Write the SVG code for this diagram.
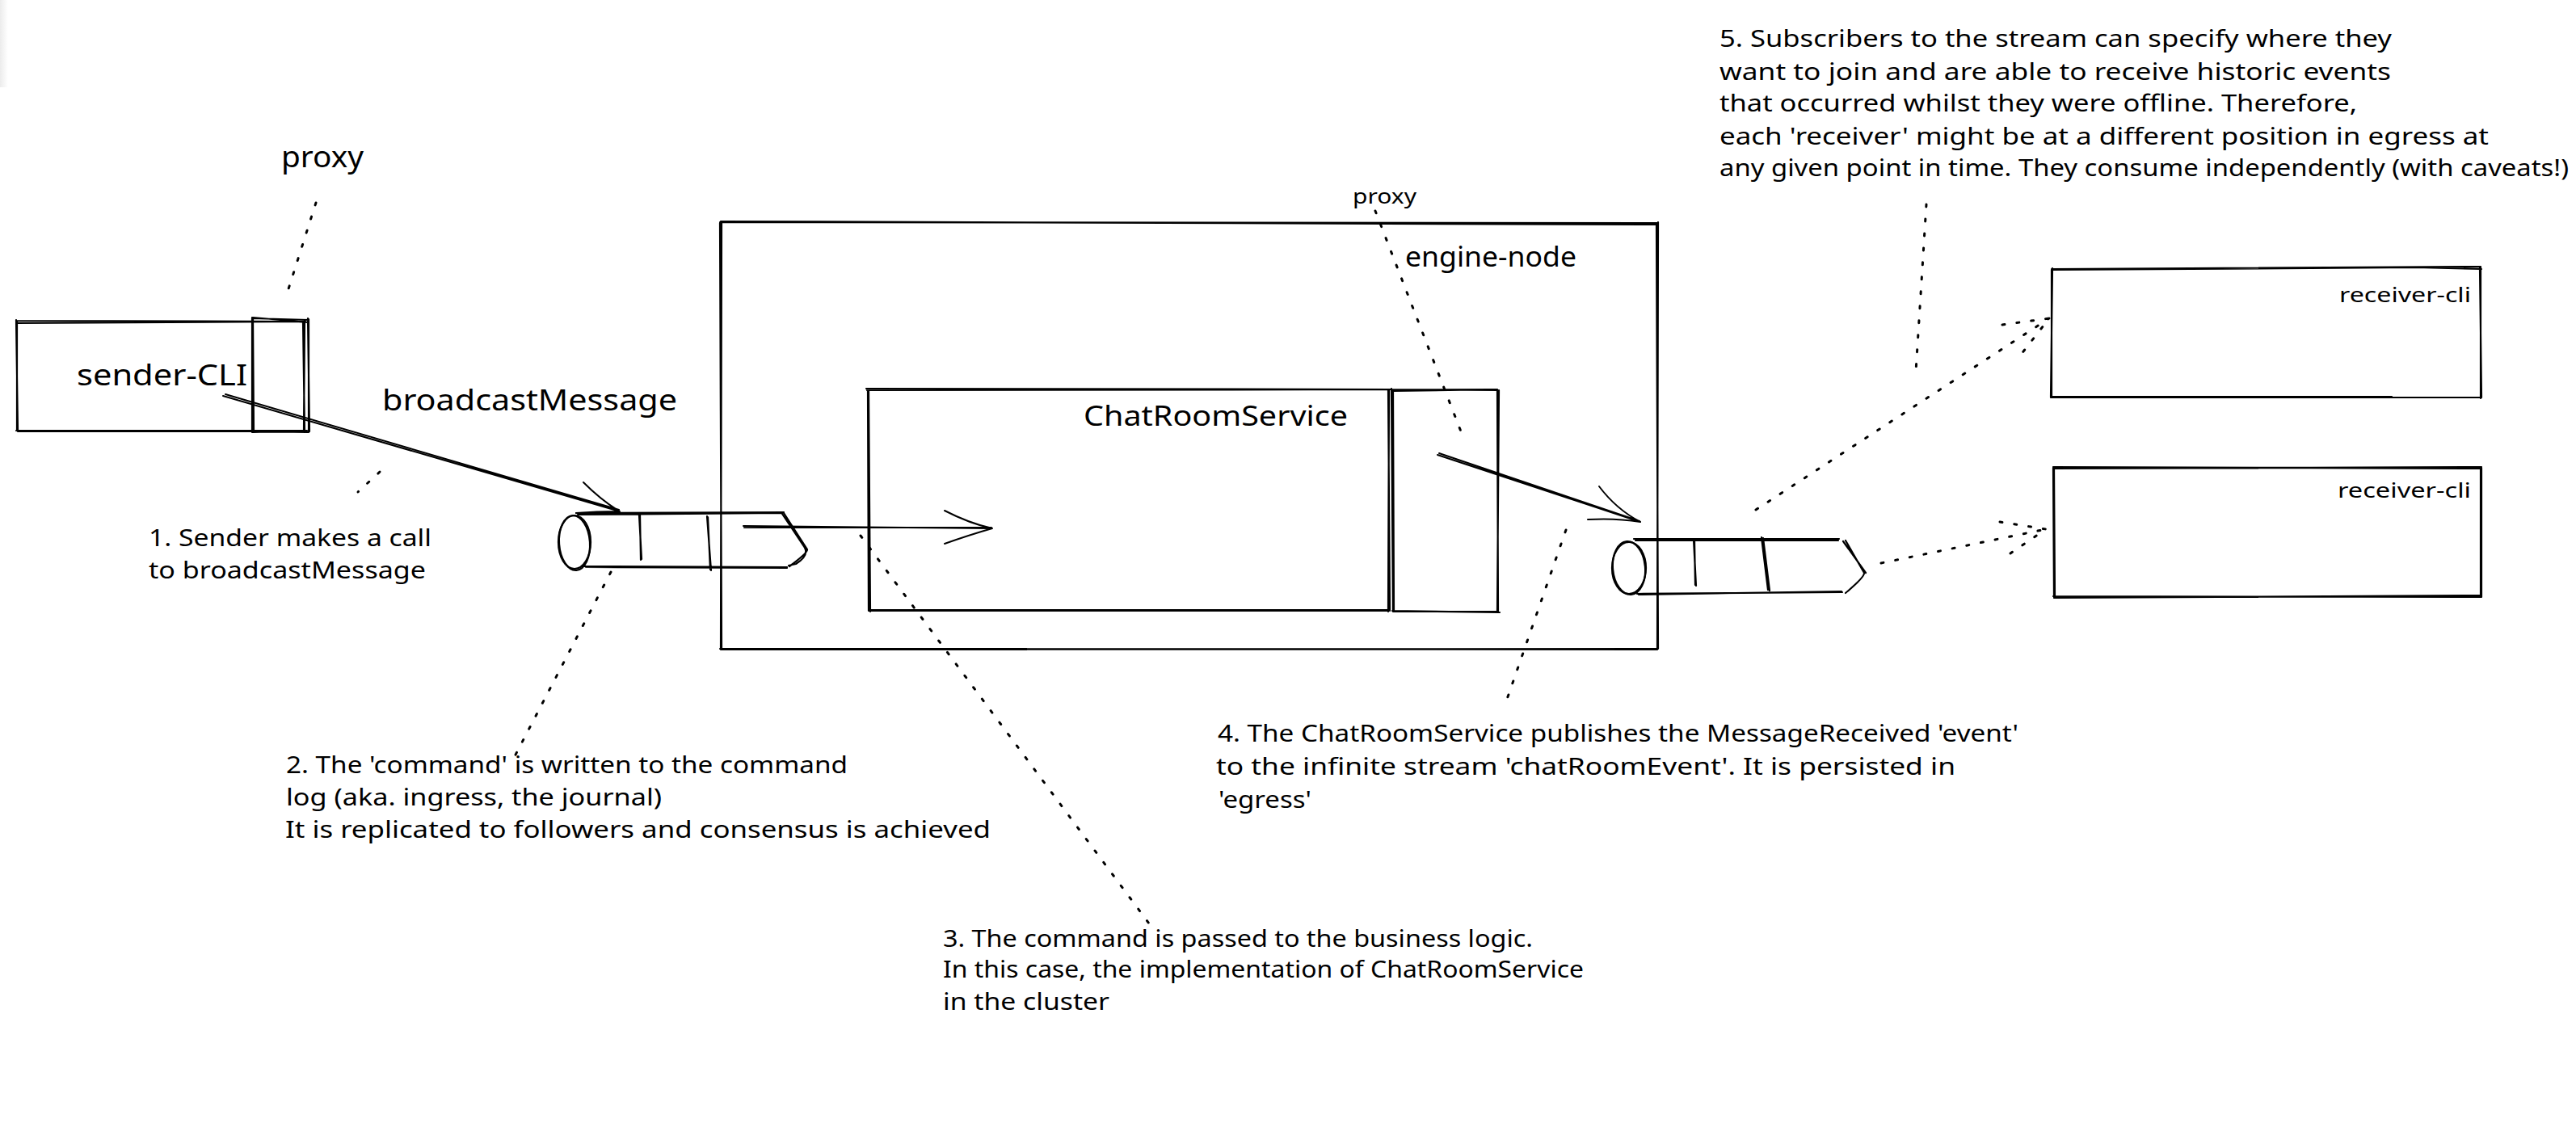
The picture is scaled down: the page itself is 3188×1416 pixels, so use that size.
<svg xmlns="http://www.w3.org/2000/svg" width="3188" height="1416" viewBox="0 0 3188 1416">
<style>
text{font-family:"Noto Sans","Liberation Sans",sans-serif;fill:#000;font-size:29px}
.lg{font-size:37px}
.md{font-size:34px}
.sm{font-size:26px}
.r{fill:none;stroke:#000;stroke-width:2.2;stroke-linecap:round;stroke-linejoin:round}
.a{fill:none;stroke:#000;stroke-width:2;stroke-linecap:round;stroke-linejoin:round}
.d{fill:none;stroke:#000;stroke-width:3;stroke-linecap:round;stroke-dasharray:3 15}
</style>
<defs>
<linearGradient id="shade" x1="0" x2="1" y1="0" y2="0"><stop offset="0" stop-color="#ececec"/><stop offset="1" stop-color="#fff"/></linearGradient>
</defs>
<rect x="0" y="0" width="10" height="108" fill="url(#shade)"/>

<g id="engine-node">
<path class="r" d="M891 275L2052 276M892 274L2051 278M2052 275L2051 804M2050 277L2052 803M2052 803L892 804M2051 804L891 803M893 274L892 804M891 276L893 803"/>
<text class="md" x="1739" y="330" textLength="212" lengthAdjust="spacingAndGlyphs">engine-node</text>
</g>

<g id="sender-cli">
<path class="r" d="M20 397L377 398M20 400L378 398M20 396L22 534M21 398L21 533M20 533L377 533M22 534L378 534M377 396L376 534M375 398L377 535"/>
<text class="lg" x="95" y="477" textLength="211" lengthAdjust="spacingAndGlyphs">sender-CLI</text>
</g>
<g id="sender-proxy">
<path class="r" d="M312 394L382 396M313 393L381 399M312 393L312 535M313 394L314 534M312 534L381 535M313 535L380 533M382 395L382 535M381 394L383 534"/>
</g>
<g id="sender-proxy-label"><text class="lg" x="348" y="207" textLength="102" lengthAdjust="spacingAndGlyphs">proxy</text></g>
<g id="broadcastMessage-label"><text class="lg" x="473" y="508" textLength="365" lengthAdjust="spacingAndGlyphs">broadcastMessage</text></g>

<g id="chatroomservice">
<path class="r" d="M1072 481L1722 482M1073 483L1720 482M1074 481L1075 756M1075 484L1077 757M1076 755L1719 755M1075 756L1718 756M1719 483L1718 757M1718 482L1720 756"/>
<text class="md" x="1341" y="527" textLength="327" lengthAdjust="spacingAndGlyphs">ChatRoomService</text>
</g>
<g id="engine-proxy">
<path class="r" d="M1722 482L1854 483M1724 484L1852 482M1722 481L1724 757M1724 483L1725 756M1723 756L1856 758M1724 757L1853 757M1853 482L1854 757M1855 483L1853 756"/>
</g>
<g id="engine-proxy-label"><text class="sm" x="1674" y="252" textLength="79" lengthAdjust="spacingAndGlyphs">proxy</text></g>

<g id="ingress">
<ellipse class="r" cx="711" cy="671" rx="20" ry="33"/>
<ellipse class="r" cx="711" cy="672" rx="19" ry="34" transform="rotate(-4 711 672)"/>
<path class="r" d="M713 635L970 634M715 637L968 635M720 701L974 702M725 702L974 703M970 635L999 680Q1000 684 977 701M968 636L996 678Q1001 688 985 698L976 700M792 637L793 693M791 638L794 692M875 639L880 706M876 640L879 705"/>
</g>

<g id="egress">
<ellipse class="r" cx="2016" cy="703" rx="21" ry="32"/>
<ellipse class="r" cx="2016" cy="703" rx="20" ry="33" transform="rotate(-5 2016 703)"/>
<path class="r" d="M2022 667L2276 667M2024 669L2275 669M2026 735L2280 733M2028 736L2279 732M2284 669L2307 709Q2308 714 2284 734M2281 670L2309 709M2096 668L2099 725M2097 667L2098 724M2180 665L2188 730M2182 666L2190 731"/>
</g>

<g id="receiver-cli-1">
<path class="r" d="M2539 333L3070 330M2539 334L2990 331L3071 333M2540 332L2538 492M2539 334L2539 491M2538 492L3071 492M2538 491L2960 491M3070 331L3070 493M3069 332L3071 492"/>
<text class="sm" x="2895" y="374" textLength="163" lengthAdjust="spacingAndGlyphs">receiver-cli</text>
</g>
<g id="receiver-cli-2">
<path class="r" d="M2541 578L3071 580M2541 580L3071 578M2541 579L2542 739M2542 580L2543 738M2541 738L3071 739M2542 740L3070 737M3071 579L3071 739M3070 580L3070 738"/>
<text class="sm" x="2893" y="616" textLength="165" lengthAdjust="spacingAndGlyphs">receiver-cli</text>
</g>

<g id="note-1">
<text x="184" y="676" textLength="350" lengthAdjust="spacingAndGlyphs">1. Sender makes a call</text>
<text x="184" y="716" textLength="343" lengthAdjust="spacingAndGlyphs">to broadcastMessage</text>
</g>
<g id="note-2">
<text x="354" y="957" textLength="695" lengthAdjust="spacingAndGlyphs">2. The 'command' is written to the command</text>
<text x="354" y="997" textLength="465" lengthAdjust="spacingAndGlyphs">log (aka. ingress, the journal)</text>
<text x="353" y="1037" textLength="873" lengthAdjust="spacingAndGlyphs">It is replicated to followers and consensus is achieved</text>
</g>
<g id="note-3">
<text x="1167" y="1172" textLength="730" lengthAdjust="spacingAndGlyphs">3. The command is passed to the business logic.</text>
<text x="1167" y="1210" textLength="793" lengthAdjust="spacingAndGlyphs">In this case, the implementation of ChatRoomService</text>
<text x="1167" y="1250" textLength="206" lengthAdjust="spacingAndGlyphs">in the cluster</text>
</g>
<g id="note-4">
<text x="1507" y="918" textLength="991" lengthAdjust="spacingAndGlyphs">4. The ChatRoomService publishes the MessageReceived 'event'</text>
<text x="1505" y="959" textLength="915" lengthAdjust="spacingAndGlyphs">to the infinite stream 'chatRoomEvent'. It is persisted in</text>
<text x="1508" y="1000" textLength="115" lengthAdjust="spacingAndGlyphs">'egress'</text>
</g>
<g id="note-5">
<text x="2128" y="58" textLength="832" lengthAdjust="spacingAndGlyphs">5. Subscribers to the stream can specify where they</text>
<text x="2128" y="99" textLength="831" lengthAdjust="spacingAndGlyphs">want to join and are able to receive historic events</text>
<text x="2128" y="138" textLength="789" lengthAdjust="spacingAndGlyphs">that occurred whilst they were offline. Therefore,</text>
<text x="2128" y="179" textLength="952" lengthAdjust="spacingAndGlyphs">each 'receiver' might be at a different position in egress at</text>
<text x="2128" y="218" textLength="1051" lengthAdjust="spacingAndGlyphs">any given point in time. They consume independently (with caveats!)</text>
</g>

<g id="connectors">
<path class="a" d="M276 490L767 633M279 488L766 631M722 597Q745 620 767 633M713 635Q740 633 767 633"/>
<path class="a" d="M920 651L1228 654M921 653L1227 653M1169 632Q1200 648 1228 654M1169 673Q1200 662 1228 654"/>
<path class="a" d="M1779 563L2030 646M1781 561L2029 645M1979 602Q2000 630 2030 646M1965 643Q2000 641 2030 646"/>
<path class="d" d="M2173 631L2536 394M2478 402L2536 394L2501 439"/>
<path class="d" d="M2328 697L2532 655M2475 646L2532 655L2485 687"/>
<path class="d" d="M391 251L354 367"/>
<path class="d" d="M470 584L443 609"/>
<path class="d" d="M756 708L636 938"/>
<path class="d" d="M1065 663L1422 1143"/>
<path class="d" d="M1702 261L1808 534"/>
<path class="d" d="M1938 656L1862 874"/>
<path class="d" d="M2384 253L2371 460"/>
</g>
</svg>
